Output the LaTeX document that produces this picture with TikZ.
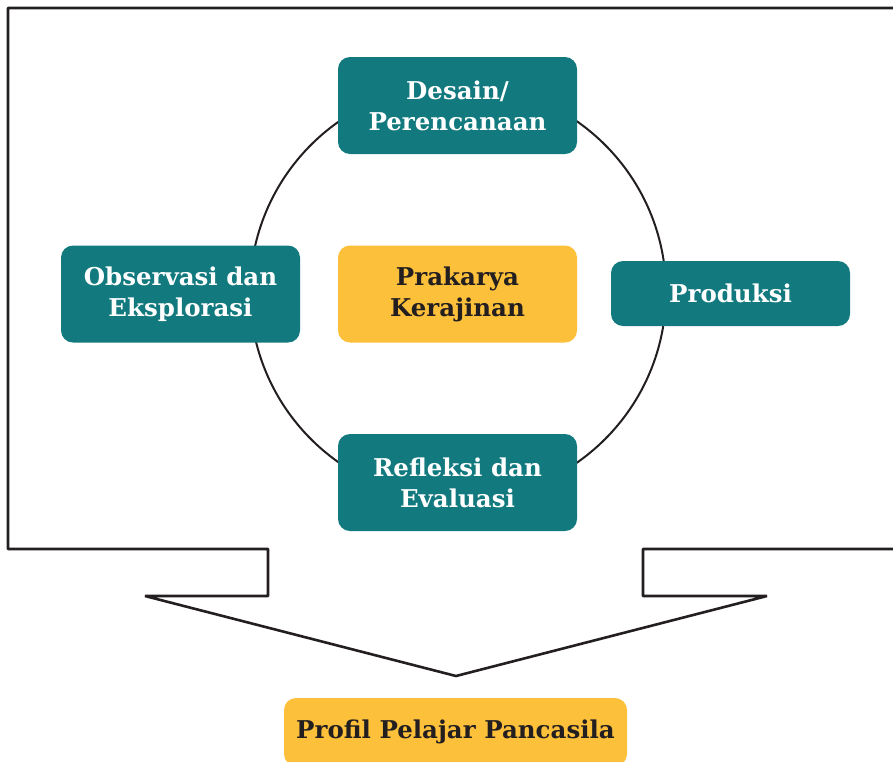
\documentclass[tikz,border=0pt]{standalone}
\usepackage{fontspec}
\setmainfont{DejaVu Serif}
\definecolor{tealbox}{HTML}{127A7E}
\definecolor{yellowbox}{HTML}{FCC03B}
\definecolor{inkdark}{HTML}{231F20}
\tikzset{
  box/.style={rounded corners=12pt, minimum width=239pt, minimum height=97pt,
    inner sep=0pt, align=center, font=\bfseries\fontsize{24.5}{31}\selectfont},
  tealnode/.style={box, fill=tealbox, text=white},
  yellownode/.style={box, fill=yellowbox, text=inkdark},
}

\begin{document}
\begin{tikzpicture}[x=1pt,y=-1pt]
  \useasboundingbox (0,0) rectangle (893,761);

  % outline with the arrow
  \draw[line width=2.6pt, inkdark, line join=bevel]
    (896,8) -- (8,8) -- (8,549) -- (268,549) -- (268,596) -- (145,596)
    -- (456,676) -- (767,596) -- (643,596) -- (643,549) -- (896,549);

  % cycle
  \draw[line width=2pt, inkdark] (458,292) circle (208pt);

  \node[tealnode] (desain) at (457.5,105.5) {Desain/\\Perencanaan};
  \node[tealnode] (observasi) at (180.5,294) {Observasi dan\\Eksplorasi};
  \node[yellownode] (prakarya) at (457.5,294) {Prakarya\\Kerajinan};
  \node[tealnode, minimum height=65pt] (produksi) at (730.5,293.5) {Produksi};
  \node[tealnode] (refleksi) at (457.5,482.5) {Refleksi dan\\Evaluasi};

  \node[yellownode, minimum width=343pt, minimum height=68pt] (profil) at (455.5,732) {Profil Pelajar Pancasila};
\end{tikzpicture}
\end{document}
